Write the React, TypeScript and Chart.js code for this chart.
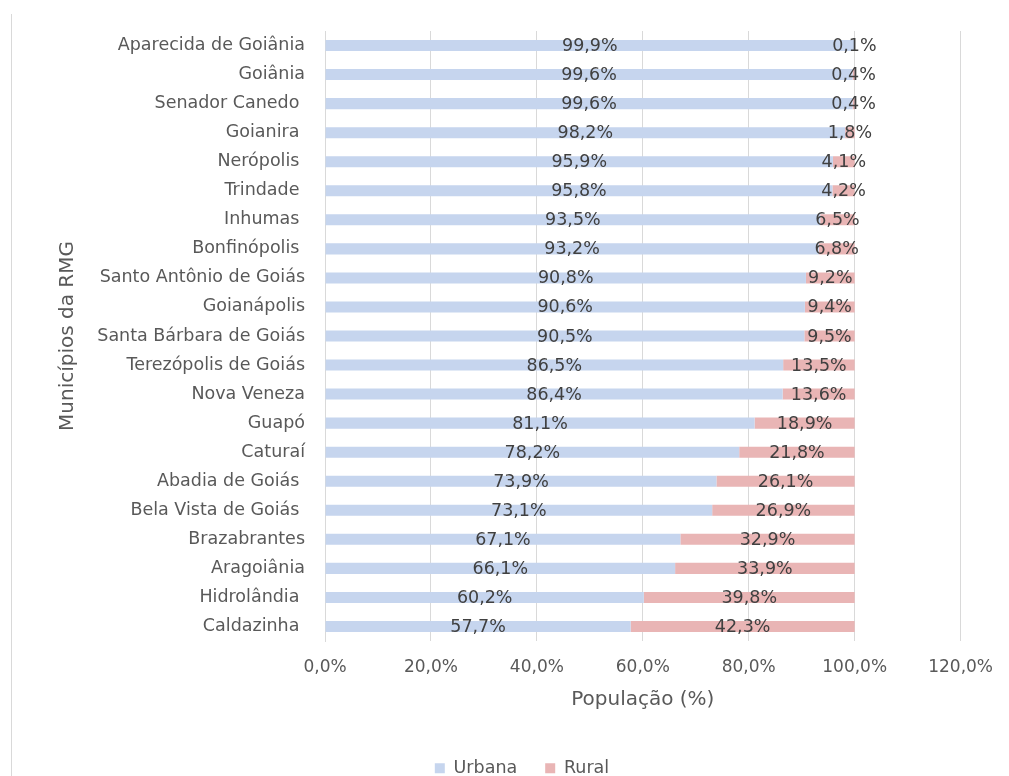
import React, { useEffect, useRef } from "react";
import { Chart, registerables } from "chart.js";

Chart.register(...registerables);

const categories = [
  "Aparecida de Goiânia",
  "Goiânia",
  "Senador Canedo ",
  "Goianira ",
  "Nerópolis ",
  "Trindade ",
  "Inhumas ",
  "Bonfinópolis ",
  "Santo Antônio de Goiás",
  "Goianápolis",
  "Santa Bárbara de Goiás",
  "Terezópolis de Goiás",
  "Nova Veneza",
  "Guapó",
  "Caturaí",
  "Abadia de Goiás ",
  "Bela Vista de Goiás ",
  "Brazabrantes",
  "Aragoiânia",
  "Hidrolândia ",
  "Caldazinha ",
];

const urbana = [99.9, 99.6, 99.6, 98.2, 95.9, 95.8, 93.5, 93.2, 90.8, 90.6, 90.5, 86.5, 86.4, 81.1, 78.2, 73.9, 73.1, 67.1, 66.1, 60.2, 57.7];
const rural = [0.1, 0.4, 0.4, 1.8, 4.1, 4.2, 6.5, 6.8, 9.2, 9.4, 9.5, 13.5, 13.6, 18.9, 21.8, 26.1, 26.9, 32.9, 33.9, 39.8, 42.3];

const seriesNames = ["Urbana", "Rural"];
const xTitle = "População (%)";
const yTitle = "Municípios da RMG";

const FONT = "'DejaVu Sans', sans-serif";
const fmt = (v: number) => v.toFixed(1).replace(".", ",") + "%";

const valueLabels = {
  id: "valueLabels",
  afterDatasetsDraw(chart: any) {
    const ctx = chart.ctx;
    ctx.save();
    ctx.font = `17.5px ${FONT}`;
    ctx.fillStyle = "#404040";
    ctx.textAlign = "center";
    ctx.textBaseline = "middle";
    chart.data.datasets.forEach((ds: any, di: number) => {
      const meta = chart.getDatasetMeta(di);
      meta.data.forEach((bar: any, i: number) => {
        const x = (bar.x + bar.base) / 2;
        ctx.fillText(fmt(ds.data[i]), x, bar.y + 1);
      });
    });
    ctx.restore();
  },
};

const frameLine = {
  id: "frameLine",
  beforeDraw(chart: any) {
    const ctx = chart.ctx;
    ctx.save();
    ctx.strokeStyle = "#d9d9d9";
    ctx.lineWidth = 1;
    ctx.beginPath();
    ctx.moveTo(11.5, 14);
    ctx.lineTo(11.5, chart.height);
    ctx.stroke();
    ctx.restore();
  },
};

export default function App() {
  const ref = useRef<HTMLCanvasElement>(null);
  useEffect(() => {
    if (!ref.current) return;
    const chart = new Chart(ref.current, {
      type: "bar",
      data: {
        labels: categories,
        datasets: [
          {
            label: seriesNames[0],
            data: urbana,
            backgroundColor: "#c6d5ee",
            barPercentage: 0.38,
            categoryPercentage: 1,
          },
          {
            label: seriesNames[1],
            data: rural,
            backgroundColor: "#e9b5b5",
            barPercentage: 0.38,
            categoryPercentage: 1,
          },
        ],
      },
      options: {
        indexAxis: "y",
        animation: false,
        responsive: false,
        layout: { padding: { top: 31, right: 47, left: 82, bottom: -11 } },
        scales: {
          x: {
            stacked: true,
            min: 0,
            max: 120,
            ticks: {
              stepSize: 20,
              color: "#595959",
              font: { family: FONT, size: 17 },
              padding: 16,
              callback: (v: any) => fmt(Number(v)),
            },
            grid: { color: "#d9d9d9", drawTicks: false },
            border: { display: false },
            title: {
              display: true,
              text: xTitle,
              color: "#595959",
              font: { family: FONT, size: 20 },
              padding: { top: 0, bottom: 19.5 },
            },
            afterFit: (s: any) => {
              s.height = 90.5;
            },
          },
          y: {
            stacked: true,
            ticks: {
              color: "#595959",
              font: { family: FONT, size: 17.5 },
              padding: 20,
              autoSkip: false,
            },
            grid: { display: false, drawTicks: false },
            border: { display: true, color: "#d9d9d9" },
            title: {
              display: true,
              text: yTitle,
              color: "#595959",
              font: { family: FONT, size: 20 },
              padding: { top: -26, bottom: 0 },
            },
            afterFit: (s: any) => {
              s.width = 243;
            },
          },
        },
        plugins: {
          legend: {
            position: "bottom",
            labels: {
              color: "#595959",
              font: { family: FONT, size: 17.5 },
              boxWidth: 10,
              boxHeight: 10,
              padding: 28,
            },
          },
          tooltip: { enabled: false },
        },
      },
      plugins: [valueLabels, frameLine],
    });
    return () => chart.destroy();
  }, []);
  return (
    <div style={{ position: "fixed", left: 0, top: 0, width: 1009, height: 776, background: "#fff" }}>
      <canvas ref={ref} width={1009} height={776} />
    </div>
  );
}
